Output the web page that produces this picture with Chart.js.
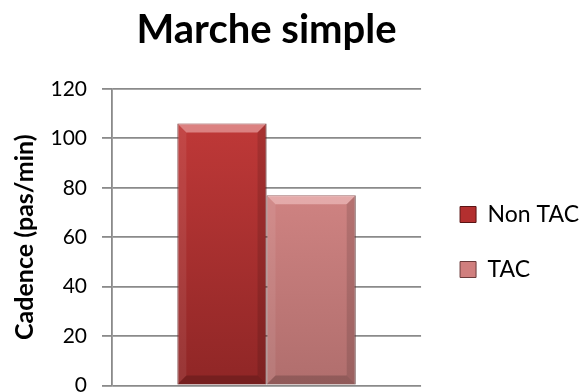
<!DOCTYPE html>
<html>
<head>
<meta charset="utf-8">
<script src="https://cdn.jsdelivr.net/npm/chart.js@4.4.1/dist/chart.umd.min.js"></script>
<style>
  html, body { margin: 0; padding: 0; background: #fff; overflow: hidden; }
  #wrap { width: 580px; height: 413px; position: relative; }
</style>
</head>
<body>
<div id="wrap"><canvas id="cadenceChart"></canvas></div>
<script>
const categories = ["Marche simple"];
const seriesNames = ["Non TAC", "TAC"];
const nonTac = [106];
const tac = [77];
const yTicks = [0, 20, 40, 60, 80, 100, 120];

// teintes haut / bas des barres
const shades = [
    { top: '#c53b3a', bottom: '#8f2626', legend: '#b32f2f', edge: '#5a1414' },
    { top: '#e08e8d', bottom: '#b06e6d', legend: '#d07f7e', edge: '#6b3b3b' }
];

const gradientFor = (idx) => (context) => {
    const chart = context.chart;
    const area = chart.chartArea;
    if (!area) return shades[idx].legend;
    const g = chart.ctx.createLinearGradient(0, area.top, 0, area.bottom);
    g.addColorStop(0, shades[idx].top);
    g.addColorStop(1, shades[idx].bottom);
    return g;
};

// petit effet de biseau sur chaque barre
const bevelPlugin = {
    id: 'bevel',
    afterDatasetsDraw(chart) {
        const ctx = chart.ctx;
        chart.data.datasets.forEach((ds, i) => {
            const meta = chart.getDatasetMeta(i);
            meta.data.forEach((bar) => {
                const p = bar.getProps(['x', 'y', 'base', 'width'], true);
                const l = p.x - p.width / 2, r = p.x + p.width / 2;
                const t = p.y, b = p.base;
                const s = 9;
                const poly = (pts, fill) => {
                    ctx.beginPath();
                    ctx.moveTo(pts[0][0], pts[0][1]);
                    pts.slice(1).forEach(q => ctx.lineTo(q[0], q[1]));
                    ctx.closePath();
                    ctx.fillStyle = fill;
                    ctx.fill();
                };
                ctx.save();
                poly([[l, t], [r, t], [r - s, t + s], [l + s, t + s]], 'rgba(255,220,220,0.45)');
                poly([[l, t], [l + s, t + s], [l + s, b - s], [l, b]], 'rgba(255,255,255,0.08)');
                poly([[r, t], [r - s, t + s], [r - s, b - s], [r, b]], 'rgba(0,0,0,0.12)');
                poly([[l, b], [l + s, b - s], [r - s, b - s], [r, b]], 'rgba(0,0,0,0.18)');
                ctx.restore();
            });
        });
    }
};

new Chart(document.getElementById('cadenceChart'), {
    type: 'bar',
    data: {
        labels: categories,
        datasets: [
            {
                label: seriesNames[0],
                data: nonTac,
                backgroundColor: gradientFor(0),
                borderColor: shades[0].edge,
                borderWidth: 1
            },
            {
                label: seriesNames[1],
                data: tac,
                backgroundColor: gradientFor(1),
                borderColor: shades[1].edge,
                borderWidth: 1
            }
        ]
    },
    options: {
        responsive: true,
        maintainAspectRatio: false,
        animation: false,
        datasets: {
            bar: { barPercentage: 1, categoryPercentage: 0.577 }
        },
        layout: { padding: { left: 10, right: -9, top: 0, bottom: 0 } },
        plugins: {
            title: {
                display: true,
                text: 'Marche simple',
                fullSize: false,
                color: '#000',
                font: { family: 'Lato', size: 40, weight: 'bold' },
                padding: { top: 6, bottom: 35 }
            },
            legend: {
                position: 'right',
                fullSize: false,
                maxWidth: 220,
                // titre vide : décale un peu les entrées vers le bas
                title: { display: true, text: '', color: '#000', font: { size: 8 }, padding: 0 },
                labels: {
                    color: '#000',
                    font: { family: 'Lato', size: 23 },
                    boxWidth: 16,
                    boxHeight: 16,
                    padding: 32,
                    generateLabels: (chart) => chart.data.datasets.map((ds, i) => ({
                        text: ds.label,
                        fontColor: '#000',
                        fillStyle: shades[i].legend,
                        strokeStyle: shades[i].edge,
                        lineWidth: 1,
                        datasetIndex: i
                    }))
                }
            },
            tooltip: { enabled: false }
        },
        scales: {
            x: {
                display: false
            },
            y: {
                min: 0,
                max: 120,
                afterBuildTicks: (scale) => { scale.ticks = yTicks.map(v => ({ value: v })); },
                afterFit: (scale) => { scale.width = 102; },
                ticks: {
                    color: '#000',
                    font: { family: 'Lato', size: 21 },
                    padding: 15
                },
                grid: {
                    color: '#8a8a8a',
                    lineWidth: 1.8,
                    tickLength: 10,
                    tickColor: '#8a8a8a'
                },
                border: { color: '#8a8a8a', width: 1.8 },
                title: {
                    display: true,
                    text: 'Cadence (pas/min)',
                    color: '#000',
                    font: { family: 'Lato', size: 25, weight: 'bold' },
                    padding: { top: 0, bottom: 8 }
                }
            },
            // marge vide entre la zone du graphique et la légende
            gap: {
                axis: 'y',
                position: 'right',
                display: true,
                grid: { display: false },
                ticks: { display: false },
                border: { display: false },
                afterFit: (scale) => { scale.width = 7; }
            }
        }
    },
    plugins: [bevelPlugin]
});
</script>
</body>
</html>
